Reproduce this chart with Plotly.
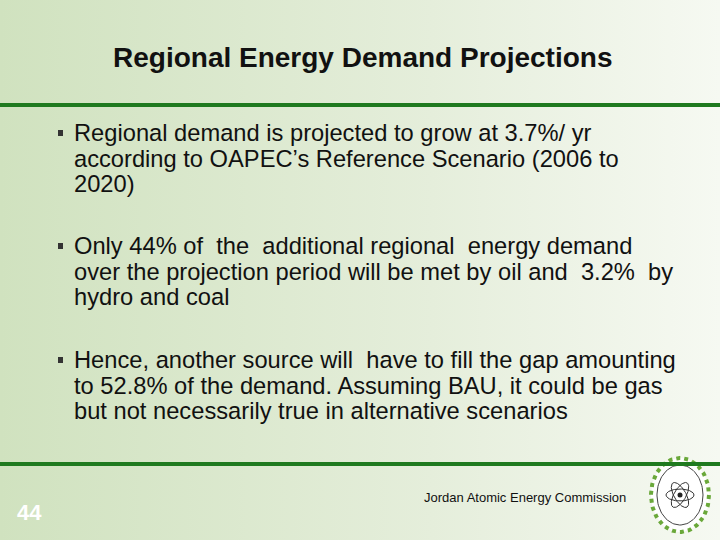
import plotly.graph_objects as go
import numpy as np

title = "Regional Energy Demand Projections"
bullets = [
    ["Regional demand is projected to grow at 3.7%/ yr",
     "according to OAPEC’s Reference Scenario (2006 to",
     "2020)"],
    ["Only 44% of  the  additional regional  energy demand",
     "over the projection period will be met by oil and  3.2%  by",
     "hydro and coal"],
    ["Hence, another source will  have to fill the gap amounting",
     "to 52.8% of the demand. Assuming BAU, it could be gas",
     "but not necessarily true in alternative scenarios"],
]
bullet_top = [133, 246, 360]
page_no = "44"
footer = "Jordan Atomic Energy Commission"

fig = go.Figure()
fig.add_trace(go.Scatter(x=[0, 720, 720, 0, 0], y=[0, 0, 540, 540, 0], mode="lines",
                         line=dict(width=0), fill="toself",
                         fillgradient=dict(type="horizontal",
                                           colorscale=[[0, "#d0e2bf"], [0.6, "#e5eedb"], [1, "#f6f9f2"]]),
                         hoverinfo="skip", showlegend=False))

shapes = [
    dict(type="line", x0=0, x1=720, y0=105, y1=105, line=dict(color="#1f7a1f", width=4)),
    dict(type="line", x0=0, x1=720, y0=464, y1=464, line=dict(color="#1f7a1f", width=4)),
]
ann = [dict(x=362, y=57, text="<b>" + title + "</b>", showarrow=False,
            font=dict(family="Liberation Sans, Arial", size=28, color="#111"))]
for b, top in zip(bullets, bullet_top):
    shapes.append(dict(type="rect", x0=58, x1=63, y0=top - 3, y1=top + 3,
                       fillcolor="#333", line=dict(width=0)))
    for i, line in enumerate(b):
        ann.append(dict(x=72, y=top + i * 25.5, text=line, showarrow=False, xanchor="left",
                        font=dict(family="Liberation Sans, Arial", size=23.7, color="#111")))
ann.append(dict(x=29, y=512, text="<b>" + page_no + "</b>", showarrow=False,
                font=dict(family="Liberation Sans, Arial", size=22, color="#ffffff")))
ann.append(dict(x=628, y=497, text=footer, showarrow=False, xanchor="right",
                font=dict(family="Liberation Sans, Arial", size=13, color="#111")))

cx, cy = 680, 495
t = np.linspace(0, 2 * np.pi, 100)
fig.add_trace(go.Scatter(x=cx + 29 * np.cos(t), y=cy + 37 * np.sin(t), mode="lines",
                         line=dict(color="#6aa83a", width=4, dash="dot"), fill="toself", fillcolor="#ffffff",
                         hoverinfo="skip", showlegend=False))
fig.add_trace(go.Scatter(x=cx + 23 * np.cos(t), y=cy + 30 * np.sin(t), mode="lines",
                         line=dict(color="#444", width=1), hoverinfo="skip", showlegend=False))
for ang in [0, 60, 120]:
    a = np.deg2rad(ang)
    ex, ey = 14 * np.cos(t), 6 * np.sin(t)
    fig.add_trace(go.Scatter(x=cx + ex * np.cos(a) - ey * np.sin(a), y=cy + ex * np.sin(a) + ey * np.cos(a),
                             mode="lines", line=dict(color="#333", width=1), hoverinfo="skip", showlegend=False))
fig.add_trace(go.Scatter(x=[cx], y=[cy], mode="markers", marker=dict(color="#222", size=5),
                         hoverinfo="skip", showlegend=False))

fig.update_layout(width=720, height=540, margin=dict(l=0, r=0, t=0, b=0),
                  plot_bgcolor="white", paper_bgcolor="white", shapes=shapes, annotations=ann,
                  xaxis=dict(range=[0, 720], visible=False, fixedrange=True),
                  yaxis=dict(range=[540, 0], visible=False, fixedrange=True))
fig.write_html("out.html", config={"displayModeBar": False},
               post_script="document.body.style.margin='0';document.body.style.overflow='hidden';")
